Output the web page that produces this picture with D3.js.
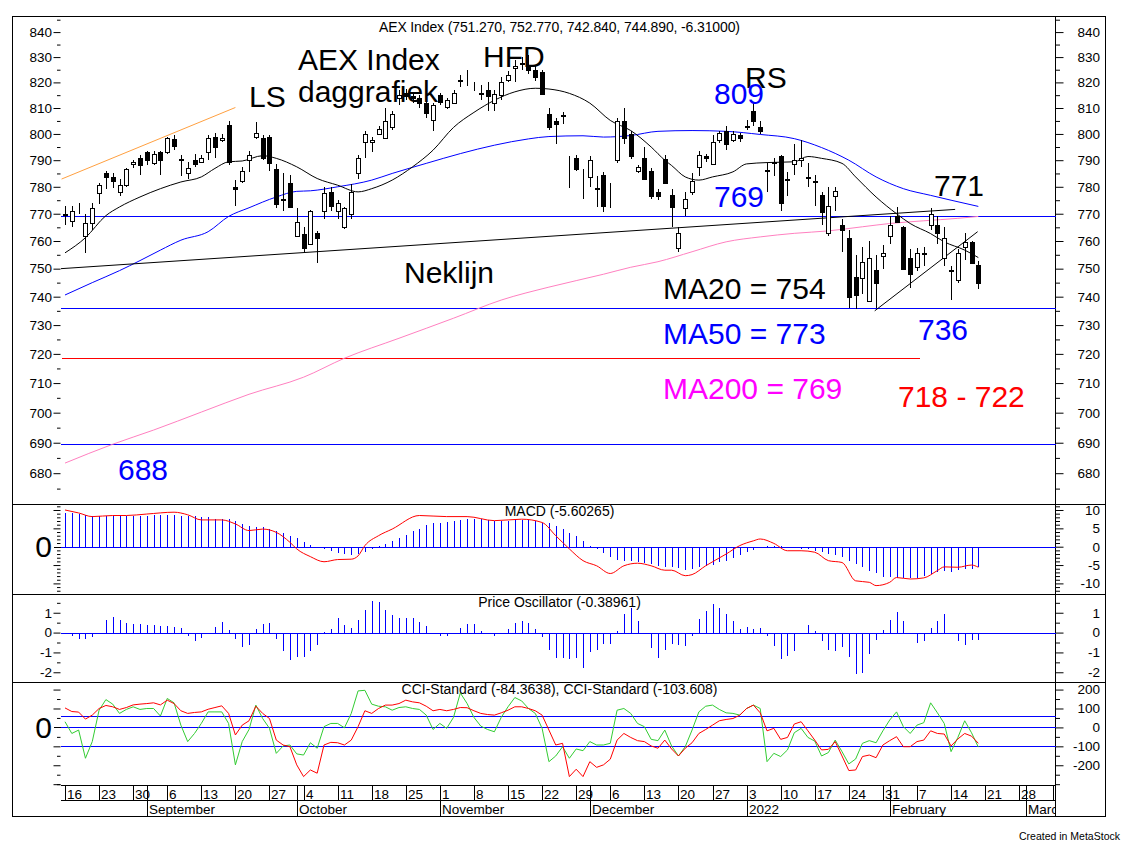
<!DOCTYPE html>
<html>
<head>
<meta charset="utf-8">
<script src="https://cdn.jsdelivr.net/npm/d3@7"></script>
<style>
  body { margin: 0; background: #fff; }
  text { font-family: Arial, "Liberation Sans", sans-serif; }
</style>
</head>
<body>
<div id="main"></div>
<script>
// ---- data (day index 0 = Mon 16 Aug 2021, one slot per trading day) ----
const open = [769.5,767.5,772,762,766.5,777.5,785,783.5,778,780.5,
  788.5,791,793,789,793,793,798,790.3,785,790,
  789.5,793,799,797.5,803.5,780,782,790,799,798.5,
  799,786.5,775.3,781.5,762,762.5,759,763,771,778,
  771,765,770,785,797,797,800,798.5,802.5,814,
  816,814.5,814,812,805.5,815,810.5,812,820.5,820,
  817.5,815.5,817,812,815,821,825.5,827.3,827,825,
  824,807.5,805,807,782.3,791,778.5,783.5,779.5,784.5,
  778.5,790,805,800,786,791,786,778,790.5,777,
  757.5,772,778,787.5,791.5,788.5,797.5,801,797.5,799.5,
  802.5,809,802.5,786.3,789.3,791.5,782.8,788.5,790,783.3,
  782,777,763,776.5,766,761,747,746.5,738.5,749.5,
  754.5,762,769,765,754,750.5,755.3,766,766,754,
  749,746,758,759.5,751.27];
const high = [773,773,774,770,774,781.5,786,785,783,787,
  790,792,793.5,793.5,793.5,799,799.5,792,789.5,792.5,
  792,799.5,800.5,800,805,782.5,787.5,793.5,804.5,799.5,
  799.5,788.5,785,784.5,772,765,771.5,763.5,780,780,
  775,772.5,781,792,801,799,803,810,809,817,
  817.5,816,815,813,812,816,814,817,823,825,
  820,819,820,817,822,824.5,829,830,831,826.5,
  825,810,806,808.5,791.5,792,786.5,791.5,784,785.5,
  781.5,806,810,801,788,795,787,779,792,779,
  765,778,785,793.5,792.5,799.5,801,803,801,800.5,
  805.5,812,805,789,791,792,785.5,796,797.5,789,
  784.5,778,780,780,768,764,755,758,760,755,
  758.5,769,772.5,765.5,757,757.5,758,772,769,765,
  751,757,763,760,752.77];
const low = [766,765,770,755.5,764,773.5,779,779.5,776.5,780,
  787,784.5,788,788,784.5,792.5,794,784,783,787.5,
  789,790,791,797,788,773,781.5,785.5,798,790,
  786,772,771,772,761.5,756,758.5,752,768,771,
  768,764.5,768,783,791,793,799.5,798,801.5,811,
  813,812,810,806,801,811,809.5,811.5,818,818.5,
  816.5,813,809,809,813,820,820,825,823.5,820.5,
  815,801.5,796,804,779.5,786,775.5,780,772.5,770.5,
  772,789,796,790.5,785,782.5,775.5,775,781,765,
  756,769,777,784,789.5,788,796.5,794,797,797,
  801.5,803,800,778,784,771,776.5,784.5,787.5,780,
  773,766,762,771,756,736,735.5,741,738,736,
  750,759,766.5,749.5,743,749,751,764,759,751,
  739,745,753,751.5,742.84];
const close = [770,771,772.3,766.5,772,780.5,783.5,782,780.5,786.5,
  789.3,788,790,792.5,790,798.5,795.5,790,787,788.5,
  791,798.5,795,798.5,789.5,779,786,792,800.5,791,
  789,773.5,775,772.5,767,757.5,771,761,777.5,773,
  774,772,778,791,800,797.5,802,805,807.5,815,
  814.5,814,812,808,811,812.5,813,816,821,820.3,
  817.3,815.8,814.5,815.5,820,823,826.5,827.6,825,822,
  815.5,802.5,804,807.3,782,786.5,778.3,790,779.3,773,
  778.3,805,798.5,791.5,787.5,783,776.5,776.5,781.5,772.5,
  763,775.5,782,792,791,797,800.5,796,800,798.5,
  803,805,801,786,789,774,782.5,790,791,783.7,
  781.7,770.5,773,778.5,764,740,740.5,752.5,754,745,
  755.5,766,767,750,748,755.5,755.6,770,763,761,
  749.5,755.5,759.5,752,744.89];

// moving averages: [day index, value]
const ma20 = [[0,755.7],[3,761.2],[6,769.3],[8,772.5],[11,776.2],[14,779.3],[17,781.8],[20,783.7],
  [22,786.9],[24,789.4],[26,789.7],[29,791.7],[31,790.7],[34,787.5],[37,783.1],[40,780.6],[43,778.1],
  [45,779.3],[48,782.5],[51,787.5],[54,793.8],[57,802.5],[60,808.3],[63,813],[66,816.3],[69,817.7],
  [71,817.4],[74,815.7],[77,811.9],[80,805.2],[83,801.3],[86,795],[88,790],[89,788],[91,783.7],[93,782.5],
  [95,783.7],[98,785.6],[100,788.6],[103,789.1],[107,789.4],[109,791.4],[111,790.7],[114,788.8],
  [116,783.7],[119,776.2],[122,770],[124,766.4],[127,762.7],[129,759.7],[132,756.7],[134,754]];
const ma50 = [[0,740.6],[4,745],[8,749.3],[11,752.9],[14,756.7],[17,760.3],[21,763.4],[24,769],
  [27,772.2],[31,776.2],[34,778.3],[36,778.5],[40,780],[45,782.5],[48,785],[53,788.8],[58,792.5],
  [63,795.7],[68,798.1],[71,799],[76,799.3],[79,798.8],[83,799.4],[87,801],[92,801.3],[97,801],
  [102,799.8],[107,798.2],[111,794.8],[115,790],[119,783.7],[123,779.3],[127,776.8],[130,775],[134,772.7]];
const ma200 = [[0,683.3],[7,689.5],[13,694.2],[20,700.2],[27,706.2],[35,712],[41,718.5],[49,725.4],
  [57,732.4],[64,738.8],[71,743.4],[79,748],[83,750.5],[87,752.5],[92,756.1],[97,759.7],[102,761.5],
  [107,762.8],[112,763.7],[117,765.2],[121,766.4],[126,767.4],[131,768.3],[134,769]];

// drawn lines: [day index, price]
const shoulderLine = [[-0.5,782.9],[25,810.2]];
const neckLine = [[-0.6,750],[130.6,771.6]];
const wedgeLine = [[118.8,735],[133.9,763.4]];
const blueLevels = [769, 736, 689.5];
const redLevel = { value: 718.5, endIdx: 125.5 };

// MACD panel
const macdHist = [9.1,9.1,8.9,8.7,8.4,8.4,8.4,8.5,8.4,8.5,
  8.5,8.5,8.5,8.6,8.7,8.7,8.6,8.5,8.5,8.3,
  8.1,8.0,7.6,7.5,7.5,6.9,6.2,5.7,5.5,5.3,
  4.9,4.2,3.7,3.0,2.3,1.2,0.4,-0.4,-0.7,-1.3,
  -1.7,-2.0,-2.2,-2.0,-1.5,-0.7,0.2,0.7,1.5,2.4,
  3.3,4.2,4.9,5.8,6.4,6.5,6.7,7.1,7.3,7.5,
  7.6,7.5,7.4,7.1,7.0,7.1,7.3,7.3,7.3,6.9,
  6.5,6.4,5.6,4.8,3.8,2.8,1.5,0.1,-0.6,-1.7,
  -2.9,-3.5,-3.8,-4.0,-4.3,-4.4,-4.7,-5.2,-5.5,-5.6,
  -5.7,-6.4,-6.1,-5.6,-5.2,-5.0,-4.3,-3.8,-3.1,-2.3,
  -1.5,-0.9,-0.2,0.1,0.2,0.1,-0.1,-0.4,-0.5,-0.7,
  -1.1,-1.5,-2.0,-2.2,-2.7,-3.8,-4.7,-5.6,-6.5,-7.3,
  -8.2,-8.2,-8.4,-8.5,-8.5,-8.5,-7.9,-7.5,-7.0,-6.7,
  -6.8,-6.4,-6.1,-6.1,-5.6];
const macdSignal = [[0,10.0],[2,9.2],[4,8.2],[7,8.5],[9,8.5],[12,8.9],[16,9.4],[18,8.7],[20,7.3],[23,7.3],
  [25,6.2],[27,4.4],[29,4.8],[31,3.9],[33,1.2],[34,-0.6],[36,-2.7],[38,-4.1],[40,-3.5],[42,-3.4],
  [43,-2.5],[44,0.3],[46,3.0],[48,4.8],[52,8.5],[56,8.2],[59,8.2],[63,7.1],[67,7.5],[70,6.6],
  [72,3.0],[74,-0.6],[76,-3.8],[78,-5.2],[80,-7.3],[82,-5.2],[84,-4.5],[86,-5.2],[88,-6.4],[89,-6.4],
  [91,-7.9],[92,-7.6],[94,-5.2],[97,-2.0],[99,0.3],[101,1.6],[102,2.1],[104,0.9],[106,-1.1],[108,-1.1],
  [110,-1.5],[112,-3.8],[114,-4.3],[116,-9.3],[118,-9.7],[119,-10.6],[121,-9.7],[122,-8.4],[124,-8.8],
  [126,-8.5],[128,-6.5],[129,-5.5],[131,-5.6],[133,-5.0],[134,-5.6]];

// Price Oscillator panel
const priceOsc = [0,-0.15,-0.3,-0.3,-0.22,0,0.65,0.8,0.65,0.5,
  0.42,0.42,0.4,0.37,0.33,0.33,0.27,0.22,-0.15,-0.42,
  -0.27,0,0.27,0.52,0.15,-0.3,-0.75,-0.62,0.17,0.42,
  0.47,-0.32,-0.92,-1.37,-1.25,-1.23,-0.93,-0.62,0.05,0.2,
  0.72,0.37,0.22,0.62,1.12,1.57,1.55,1.13,0.9,0.72,
  0.72,0.72,0.52,0.32,0,-0.15,-0.15,0,0.22,0.42,
  0.42,0.1,-0.05,-0.15,-0.05,0.17,0.47,0.57,0.47,0.17,
  -0.2,-0.87,-1.27,-1.26,-1.31,-1.26,-1.76,-0.97,-0.89,-0.55,
  -0.55,0.07,0.96,1.26,0.59,-0.05,-0.76,-1.26,-0.89,-0.55,
  -0.64,-0.67,-0.17,0.67,1.08,1.43,1.26,0.92,0.57,0.17,
  0.27,0.17,0.22,-0.17,-0.67,-1.34,-1.19,-0.92,0,0.37,
  0.07,-0.42,-0.89,-0.92,-0.72,-1.23,-2.07,-2.03,-1.09,-0.35,
  0.12,0.62,1.04,0.59,0,-0.52,-0.44,0.24,0.59,0.96,
  0,-0.44,-0.64,-0.39,-0.39];

// CCI panel
const cciRed = [103,84,81,44,65,100,116,109,95,105,
  119,123,126,130,119,144,126,88,74,79,
  82,96,105,114,74,-40,12,35,112,74,
  47,-67,-93,-102,-198,-260,-225,-242,-93,-79,
  -81,-93,-67,4,88,74,100,118,118,126,
  144,135,130,112,88,95,88,95,105,104,
  88,74,68,65,77,91,109,109,100,88,
  65,-14,-93,-84,-260,-221,-260,-181,-211,-198,
  -168,-67,-32,-53,-70,-75,-98,-110,-67,-114,
  -151,-110,-81,-32,-11,12,35,42,47,65,
  100,118,77,-18,-5,-63,-53,18,30,-18,
  -67,-119,-116,-75,-151,-228,-225,-154,-146,-160,
  -93,-70,-49,-102,-102,-75,-67,-18,-32,-35,
  -98,-61,-32,-46,-84];
const cciGreen = [30,-32,-14,-163,-75,91,147,123,74,95,
  109,95,100,100,60,153,130,12,-75,-32,
  21,82,82,82,21,-198,-75,-11,118,47,
  -5,-137,-98,-93,-140,-146,-81,-110,4,21,
  21,-2,74,193,196,123,112,109,91,105,
  109,100,95,65,-11,21,-5,53,182,126,
  53,7,-11,-23,53,109,158,140,100,74,
  -5,-181,-151,-102,-163,-114,-123,-75,-93,-93,
  -84,91,100,74,21,4,-63,-70,-14,-98,
  -151,-102,-14,82,112,118,95,77,74,65,
  100,118,100,-181,-137,-154,-119,-28,-5,-53,
  -72,-151,-133,-67,-128,-193,-167,-84,-70,-81,
  -18,39,82,4,-32,12,25,130,77,21,
  -128,-53,35,-28,-104];
const cciLevels = [60, 0, -100];

// x axis labels
const weekLabels = ["16","23","30","6","13","20","27","4","11","18","25","1","8","15","22",
  "29","6","13","20","27","3","10","17","24","31","7","14","21","28","7"];
const monthNames = ["September","October","November","December","2022","February","March"];
const monthStart = [12, 34, 55, 77, 100, 121, 141];

// tick values
const priceMajor = d3.range(680, 841, 10);
const priceMinor = d3.range(675, 846, 10);
const macdMajor = [-10, -5, 0, 5, 10];
const macdMinor = d3.range(-12, 12).filter(v => v % 5 !== 0);
const oscMajor = [-2, -1, 0, 1];
const oscMinor = [-1.5, -0.5, 0.5, 1.5];
const cciMajor = [-200, -100, 0, 100, 200];
const cciMinor = [-300, -250, -150, -50, 50, 150];

// ---- layout ----
const ctx = { w: 1125, h: 845 };
const frame = { left: 12.5, right: 1105.5, top: 16.5, bottom: 816.5 };
const plotL = 60.5, plotR = 1055.5;
const P = {
  price: [16.5, 503.5],
  macd: [503.5, 593.5],
  osc: [593.5, 682],
  cci: [682, 785.5]
};
const xRow1 = 785.5, xRow2 = 800.5;

const x = d3.scaleLinear().domain([0, 145.25]).range([65, 1055]);
const yP = d3.scaleLog().domain([670.2, 846.5]).range([P.price[1], 16]);
const yM = d3.scaleLinear().domain([-12.75, 11.77]).range([P.macd[1], P.macd[0]]);
const yO = d3.scaleLinear().domain([-2.49, 1.97]).range([P.osc[1], P.osc[0]]);
const yC = d3.scaleLinear().domain([-307, 240]).range([P.cci[1], P.cci[0]]);

const px = v => Math.round(v) + 0.5;
const BLUE = "#0000ff";

const svg = d3.select("#main").append("svg")
  .attr("width", ctx.w).attr("height", ctx.h);
svg.append("rect").attr("width", ctx.w).attr("height", ctx.h).attr("fill", "#fff");

const days = d3.range(close.length);

// ---- frame & separators ----
const frameG = svg.append("g").attr("stroke", "#000").attr("shape-rendering", "crispEdges");
frameG.append("rect").attr("x", frame.left).attr("y", frame.top)
  .attr("width", frame.right - frame.left).attr("height", frame.bottom - frame.top).attr("fill", "none");
[P.macd[0], P.osc[0], P.cci[0]].forEach(yy => {
  frameG.append("line").attr("x1", frame.left).attr("x2", frame.right).attr("y1", px(yy)).attr("y2", px(yy));
});
frameG.append("line").attr("x1", plotR).attr("x2", plotR).attr("y1", frame.top).attr("y2", frame.bottom);

// ---- y axes ----
function yAxes(scale, major, minor, opts) {
  const gl = svg.append("g").attr("transform", `translate(${plotL},0)`);
  gl.append("g").call(d3.axisLeft(scale).tickValues(minor).tickSize(3.5).tickFormat(""));
  gl.append("g").call(d3.axisLeft(scale).tickValues(opts.leftMajor || major).tickSize(7).tickPadding(1.5)
    .tickFormat(opts.leftLabels ? (d => String(d)) : ""));
  const gr = svg.append("g").attr("transform", `translate(${plotR},0)`);
  gr.append("g").call(d3.axisRight(scale).tickValues(minor).tickSize(4.5).tickFormat(""));
  gr.append("g").call(d3.axisRight(scale).tickValues(major).tickSize(8).tickFormat(d => String(d)));
  gr.selectAll("text").attr("x", 44.5).attr("text-anchor", "end");
  [gl, gr].forEach(g => {
    g.selectAll(".domain").remove();
    g.selectAll("text").attr("font-size", 13.5).attr("font-family", "Arial, 'Liberation Sans', sans-serif").attr("fill", "#000");
    g.selectAll("line").attr("stroke", "#000");
  });
}
yAxes(yP, priceMajor, priceMinor, { leftLabels: true });
yAxes(yM, macdMajor, macdMinor, { leftLabels: false, leftMajor: [-10, -5, 5, 10] });
yAxes(yO, oscMajor, oscMinor, { leftLabels: true });
yAxes(yC, cciMajor, cciMinor, { leftLabels: false, leftMajor: [-300, -200, -100, 100, 200] });

// big zero labels at the left
[yM, yC].forEach(s => {
  svg.append("line").attr("x1", plotL - 7).attr("x2", plotL).attr("y1", px(s(0))).attr("y2", px(s(0)))
    .attr("stroke", "#000").attr("shape-rendering", "crispEdges");
  svg.append("text").attr("x", 52).attr("y", s(0) + 10.5).attr("text-anchor", "end")
    .attr("font-size", 30).text("0");
});

// ---- price panel ----
const priceG = svg.append("g");
const lineBetween = (pts, color) => priceG.append("line")
  .attr("x1", x(pts[0][0])).attr("y1", yP(pts[0][1]))
  .attr("x2", x(pts[1][0])).attr("y2", yP(pts[1][1]))
  .attr("stroke", color);

blueLevels.forEach(v => {
  priceG.append("line").attr("x1", plotL).attr("x2", plotR).attr("y1", px(yP(v))).attr("y2", px(yP(v)))
    .attr("stroke", BLUE).attr("shape-rendering", "crispEdges");
});
priceG.append("line").attr("x1", plotL + 1).attr("x2", x(redLevel.endIdx))
  .attr("y1", px(yP(redLevel.value))).attr("y2", px(yP(redLevel.value)))
  .attr("stroke", "#ff0000").attr("shape-rendering", "crispEdges");

const maLine = d3.line().x(d => x(d[0])).y(d => yP(d[1])).curve(d3.curveMonotoneX);
priceG.append("path").attr("d", maLine(ma200)).attr("fill", "none").attr("stroke", "#ff80c0");
priceG.append("path").attr("d", maLine(ma50)).attr("fill", "none").attr("stroke", BLUE);
priceG.append("path").attr("d", maLine(ma20)).attr("fill", "none").attr("stroke", "#000");

lineBetween(shoulderLine, "#ffa040");
lineBetween(neckLine, "#000");
lineBetween(wedgeLine, "#000");

// candles
const candleG = svg.append("g").attr("shape-rendering", "crispEdges");
candleG.selectAll("line.wick").data(days).enter().append("line")
  .attr("class", "wick")
  .attr("x1", i => px(x(i))).attr("x2", i => px(x(i)))
  .attr("y1", i => yP(high[i])).attr("y2", i => yP(low[i]))
  .attr("stroke", "#000");
candleG.selectAll("rect.body").data(days).enter().append("rect")
  .attr("class", "body")
  .attr("x", i => Math.round(x(i)) - 1.5)
  .attr("width", 4)
  .attr("y", i => Math.round(yP(Math.max(open[i], close[i]))) + 0.5)
  .attr("height", i => Math.max(0, Math.round(yP(Math.min(open[i], close[i]))) - Math.round(yP(Math.max(open[i], close[i])))))
  .attr("fill", i => close[i] >= open[i] ? "#fff" : "#000")
  .attr("stroke", "#000");

// annotations
const notes = [
  { t: "AEX Index", x: 298, y: 70, c: "#000" },
  { t: "daggrafiek", x: 298, y: 102, c: "#000" },
  { t: "LS", x: 249, y: 106.5, c: "#000" },
  { t: "HFD", x: 483, y: 66.5, c: "#000" },
  { t: "RS", x: 745, y: 88, c: "#000" },
  { t: "809", x: 714, y: 104, c: BLUE },
  { t: "769", x: 714, y: 206.5, c: BLUE },
  { t: "771", x: 934, y: 196, c: "#000" },
  { t: "Neklijn", x: 404, y: 282.5, c: "#000" },
  { t: "MA20 = 754", x: 663, y: 298.5, c: "#000" },
  { t: "MA50 = 773", x: 663, y: 343.5, c: BLUE },
  { t: "MA200 = 769", x: 663, y: 398.5, c: "#ff00ff" },
  { t: "736", x: 918, y: 339.5, c: BLUE },
  { t: "718 - 722", x: 898, y: 406.5, c: "#ff0000" },
  { t: "688", x: 118, y: 479.5, c: BLUE }
];
svg.append("g").selectAll("text").data(notes).enter().append("text")
  .attr("x", d => d.x).attr("y", d => d.y).attr("fill", d => d.c)
  .attr("font-size", 30).text(d => d.t);

// panel titles
const titles = [
  ["AEX Index (751.270, 752.770, 742.840, 744.890, -6.31000)", 32],
  ["MACD (-5.60265)", 515.5],
  ["Price Oscillator (-0.38961)", 606.5],
  ["CCI-Standard (-84.3638), CCI-Standard (-103.608)", 694]
];
svg.append("g").selectAll("text").data(titles).enter().append("text")
  .attr("x", 559.5).attr("y", d => d[1]).attr("text-anchor", "middle")
  .attr("font-size", 14).attr("textLength", (d, i) => i === 0 ? 361 : null)
  .text(d => d[0]);

// ---- MACD panel ----
const macdG = svg.append("g").attr("shape-rendering", "crispEdges");
macdG.append("line").attr("x1", plotL).attr("x2", plotR).attr("y1", px(yM(0))).attr("y2", px(yM(0))).attr("stroke", BLUE);
macdG.selectAll("line.bar").data(days).enter().append("line")
  .attr("x1", i => px(x(i))).attr("x2", i => px(x(i)))
  .attr("y1", px(yM(0))).attr("y2", i => yM(macdHist[i]))
  .attr("stroke", BLUE);
svg.append("path")
  .attr("d", d3.line().x(d => x(d[0])).y(d => yM(d[1])).curve(d3.curveMonotoneX)(macdSignal))
  .attr("fill", "none").attr("stroke", "#ff0000");

// ---- Price oscillator ----
const oscG = svg.append("g").attr("shape-rendering", "crispEdges");
oscG.append("line").attr("x1", plotL).attr("x2", plotR).attr("y1", px(yO(0))).attr("y2", px(yO(0))).attr("stroke", BLUE);
oscG.selectAll("line.bar").data(days.filter(i => priceOsc[i] !== 0)).enter().append("line")
  .attr("x1", i => px(x(i))).attr("x2", i => px(x(i)))
  .attr("y1", px(yO(0))).attr("y2", i => yO(priceOsc[i]))
  .attr("stroke", BLUE);

// ---- CCI ----
const cciG = svg.append("g");
cciLevels.forEach(v => {
  cciG.append("line").attr("x1", plotL).attr("x2", plotR).attr("y1", px(yC(v))).attr("y2", px(yC(v)))
    .attr("stroke", BLUE).attr("shape-rendering", "crispEdges");
});
const cciLine = d3.line().x((d, i) => x(i)).y(d => yC(d));
cciG.append("path").attr("d", cciLine(cciGreen)).attr("fill", "none").attr("stroke", "#33cc33");
cciG.append("path").attr("d", cciLine(cciRed)).attr("fill", "none").attr("stroke", "#ff0000");

// ---- x axis ----
svg.append("clipPath").attr("id", "xclip").append("rect")
  .attr("x", 0).attr("y", xRow1).attr("width", plotR).attr("height", 40);
const xg = svg.append("g").attr("stroke", "#000").attr("shape-rendering", "crispEdges");
xg.append("line").attr("x1", plotL).attr("x2", plotR).attr("y1", xRow1).attr("y2", xRow1);
xg.append("line").attr("x1", plotL).attr("x2", plotR).attr("y1", xRow2).attr("y2", xRow2);
const xt = svg.append("g").attr("clip-path", "url(#xclip)");
weekLabels.forEach((lab, k) => {
  const xx = px(x(k * 5));
  xt.append("line").attr("x1", xx).attr("x2", xx).attr("y1", xRow1).attr("y2", xRow2)
    .attr("stroke", "#000").attr("shape-rendering", "crispEdges");
  xt.append("text").attr("x", xx + 1.5).attr("y", 798.5).attr("font-size", 13.5).text(lab);
});
monthNames.forEach((m, k) => {
  const xx = px(x(monthStart[k]));
  xt.append("line").attr("x1", xx).attr("x2", xx).attr("y1", xRow1).attr("y2", frame.bottom)
    .attr("stroke", "#000").attr("shape-rendering", "crispEdges");
  xt.append("text").attr("x", xx + 1.5).attr("y", 814).attr("font-size", 13.5).text(m);
});

svg.append("text").attr("x", 1019).attr("y", 840).attr("font-size", 10.5).text("Created in MetaStock");
</script>
</body>
</html>
